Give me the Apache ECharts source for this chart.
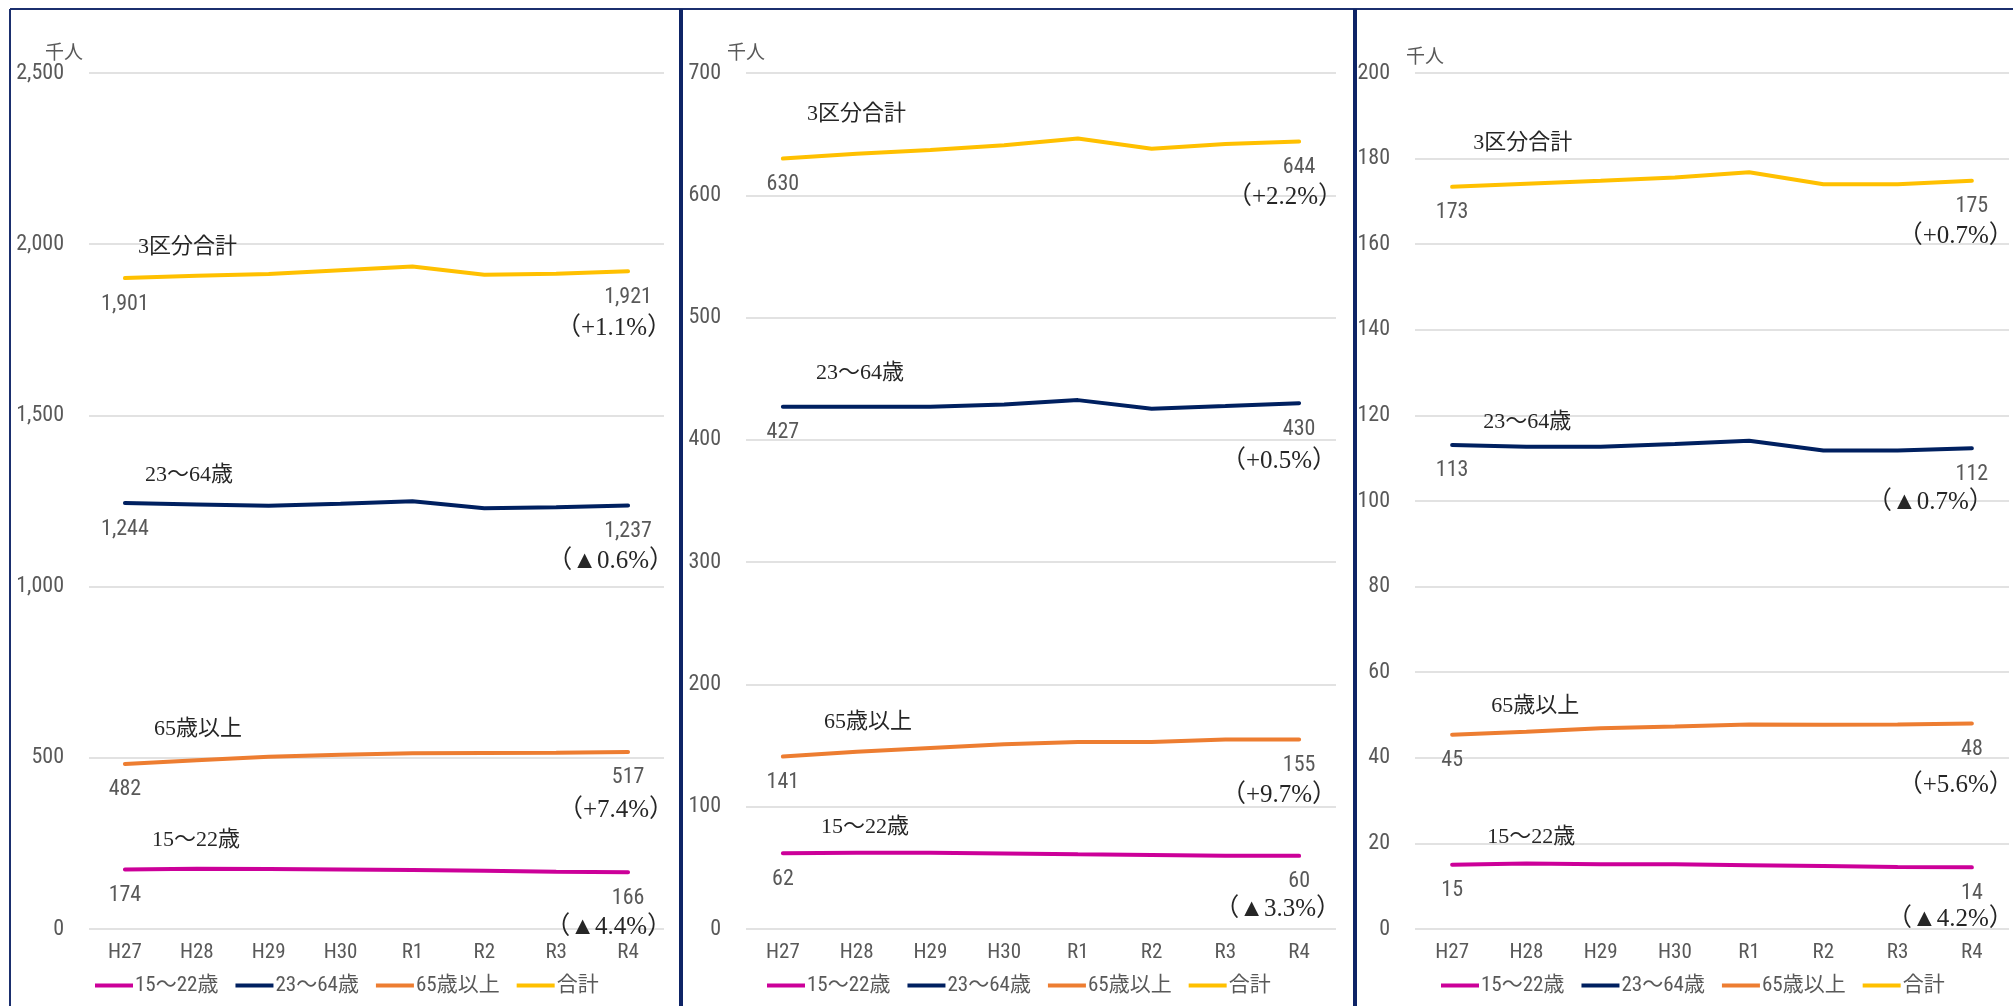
<!DOCTYPE html>
<html>
<head>
<meta charset="utf-8">
<script src="https://cdn.jsdelivr.net/npm/echarts@6/dist/echarts.min.js"></script>
<style>
html,body{margin:0;padding:0;background:#fff;}
#chart{width:2013px;height:1006px;}
</style>
</head>
<body>
<div id="chart"></div>
<script>
// ---- data ----
const categories = ['H27','H28','H29','H30','R1','R2','R3','R4'];
const legendNames = ['15～22歳','23～64歳','65歳以上','合計'];
const seriesLabels = ['15～22歳','23～64歳','65歳以上','3区分合計'];

// Panel 1
const p1Age15_22 = [174, 176, 175, 174, 172, 170, 167, 166];
const p1Age23_64 = [1244, 1240, 1236, 1242, 1249, 1229, 1232, 1237];
const p1Age65 = [482, 493, 503, 509, 513, 514, 515, 517];
const p1Total = [1901, 1908, 1913, 1924, 1935, 1911, 1914, 1921];
const p1Change = ['▲4.4%', '▲0.6%', '+7.4%', '+1.1%'];

// Panel 2
const p2Age15_22 = [62, 62.4, 62.4, 61.7, 61.1, 60.6, 59.9, 59.8];
const p2Age23_64 = [427, 427, 427, 429, 432.5, 425.5, 427.6, 430];
const p2Age65 = [141, 145, 148, 151, 153, 153, 155, 155];
const p2Total = [630, 634, 637, 641, 646.5, 638, 642, 644];
const p2Change = ['▲3.3%', '+0.5%', '+9.7%', '+2.2%'];

// Panel 3
const p3Age15_22 = [15, 15.3, 15.1, 15.1, 14.9, 14.7, 14.5, 14.4];
const p3Age23_64 = [113.1, 112.7, 112.7, 113.3, 114.1, 111.8, 111.8, 112.3];
const p3Age65 = [45.4, 46.1, 46.9, 47.3, 47.8, 47.7, 47.8, 48.0];
const p3Total = [173.4, 174.1, 174.8, 175.6, 176.8, 174.0, 174.0, 174.8];
const p3Change = ['▲4.2%', '▲0.7%', '+5.6%', '+0.7%'];

const yMax = [2500, 700, 200];
const yInterval = [500, 100, 20];
const unitName = '千人';

// ---- styles ----
const colors = ['#CC0099', '#002060', '#ED7D31', '#FFC000'];
const NARROW = "'Roboto Condensed','Noto Sans CJK JP',sans-serif";
const CJK = "'Noto Sans CJK JP',sans-serif";
const SERIF = "'Liberation Serif','Noto Sans CJK JP',serif";
const GRAY = '#595959';

const panels = [
  [p1Age15_22, p1Age23_64, p1Age65, p1Total],
  [p2Age15_22, p2Age23_64, p2Age65, p2Total],
  [p3Age15_22, p3Age23_64, p3Age65, p3Total]
];
const changes = [p1Change, p2Change, p3Change];

const gridLayout = [
  {left: 89, top: 73, width: 575, height: 856},
  {left: 746, top: 73, width: 590, height: 856},
  {left: 1415, top: 73, width: 594, height: 856}
];
const nameOffsets = [
  [[27,-29],[20,-28],[29,-35],[13,-31]],
  [[38,-26],[33,-34],[41,-34],[24,-44]],
  [[35,-28],[31,-23],[39,-28],[21,-44]]
];
const pctOffsets = [
  [[44,55],[46,56],[46,58],[44,57]],
  [[42,54],[38,58],[38,56],[44,56]],
  [[42,52],[22,54],[42,62],[42,56]]
];
const unitPad = [[0,50,0,0],[0,0,0,0],[0,0,0,20]];
const unitGap = [12, 12, 8];
const legendLeft = [95, 767, 1441];

function fmt(v){ return Math.round(v).toLocaleString('en-US'); }

const xAxis = [], yAxis = [], series = [], legend = [];
for (let p = 0; p < 3; p++) {
  xAxis.push({
    type: 'category', gridIndex: p, data: categories, boundaryGap: true,
    axisLine: {show: false}, axisTick: {show: false},
    axisLabel: {margin: 13, color: GRAY, fontSize: 21, fontFamily: NARROW}
  });
  yAxis.push({
    type: 'value', gridIndex: p, min: 0, max: yMax[p], interval: yInterval[p],
    name: unitName, nameLocation: 'end', nameGap: unitGap[p],
    nameTextStyle: {color: GRAY, fontSize: 19, fontFamily: CJK, align: 'center', padding: unitPad[p]},
    axisLine: {show: false}, axisTick: {show: false},
    splitLine: {lineStyle: {color: '#D9D9D9', width: 1.5}},
    axisLabel: {margin: 25, color: GRAY, fontSize: 22, fontFamily: NARROW, formatter: v => fmt(v)}
  });
  const vals = panels[p];
  for (let k = 0; k < 4; k++) {
    const d = vals[k];
    const last = d.length - 1;
    series.push({
      type: 'line', name: legendNames[k], xAxisIndex: p, yAxisIndex: p,
      data: d, symbol: 'none', smooth: false,
      lineStyle: {width: 4, color: colors[k], cap: 'round'},
      itemStyle: {color: colors[k]},
      z: 3,
      markPoint: {
        symbol: 'circle', symbolSize: 0, silent: true, animation: false,
        data: [
          {coord: [categories[0], d[0]], value: d[0],
           label: {show: true, formatter: fmt(d[0]), offset: [0, 26], align: 'center', verticalAlign: 'middle',
                   color: GRAY, fontSize: 22, fontFamily: NARROW}},
          {coord: [categories[last], d[last]], value: d[last],
           label: {show: true, formatter: fmt(d[last]), offset: [0, 26], align: 'center', verticalAlign: 'middle',
                   color: GRAY, fontSize: 22, fontFamily: NARROW}},
          {coord: [categories[last], d[last]], value: d[last],
           label: {show: true, formatter: '（' + changes[p][k] + '）', offset: pctOffsets[p][k], align: 'right', verticalAlign: 'middle',
                   color: '#262626', fontSize: 25, fontFamily: SERIF}},
          {coord: [categories[0], d[0]], value: d[0],
           label: {show: true, formatter: seriesLabels[k], offset: nameOffsets[p][k], align: 'left', verticalAlign: 'middle',
                   color: '#262626', fontSize: 22, fontFamily: SERIF}}
        ]
      }
    });
  }
  legend.push({
    data: legendNames, left: legendLeft[p], top: 975, padding: 0, icon: 'rect',
    itemWidth: 38, itemHeight: 4, itemGap: 17, selectedMode: false,
    textStyle: {fontSize: 21, color: GRAY, fontFamily: NARROW, padding: [0,0,0,-3]}
  });
}

const BORDER = '#1B2F6E';
const option = {
  animation: false,
  backgroundColor: '#ffffff',
  grid: gridLayout,
  xAxis, yAxis, series, legend,
  graphic: [
    {type: 'line', shape: {x1: 10, y1: 9, x2: 2013, y2: 9}, style: {stroke: BORDER, lineWidth: 2}},
    {type: 'line', shape: {x1: 10, y1: 9, x2: 10, y2: 1006}, style: {stroke: BORDER, lineWidth: 2}},
    {type: 'line', shape: {x1: 681, y1: 9, x2: 681, y2: 1006}, style: {stroke: '#0E2466', lineWidth: 4}},
    {type: 'line', shape: {x1: 1355, y1: 9, x2: 1355, y2: 1006}, style: {stroke: '#0E2466', lineWidth: 4}}
  ]
};
const chart = echarts.init(document.getElementById('chart'), null, {renderer: 'canvas'});
chart.setOption(option);
</script>
</body>
</html>
